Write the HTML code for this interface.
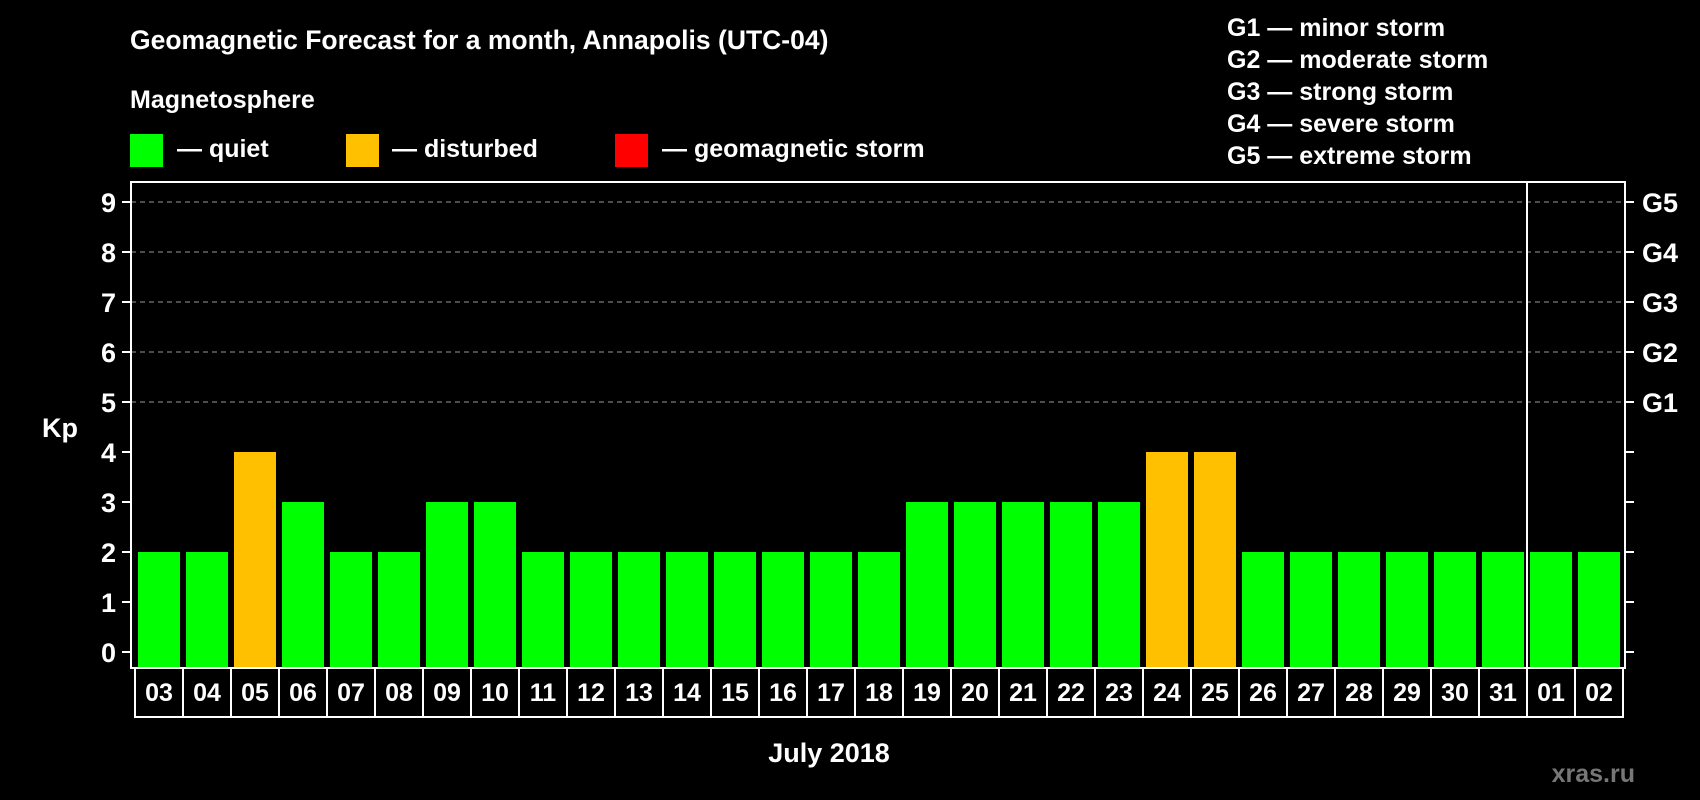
<!DOCTYPE html>
<html><head><meta charset="utf-8"><style>
html,body{margin:0;padding:0;background:#000;}
svg{display:block;font-family:"Liberation Sans",Arial,sans-serif;font-weight:bold;}
</style></head><body>
<svg id="chart" width="1700" height="800" viewBox="0 0 1700 800" xmlns="http://www.w3.org/2000/svg">
<rect x="0" y="0" width="1700" height="800" fill="#000"/>
<text x="130" y="49" fill="#fff" font-size="26.5">Geomagnetic Forecast for a month, Annapolis (UTC-04)</text>
<text x="130" y="108" fill="#fff" font-size="25">Magnetosphere</text>
<g>
<rect x="130" y="134" width="33" height="33" fill="#00ff00"/>
<text x="177" y="157" fill="#fff" font-size="25">— quiet</text></g>
<g>
<rect x="346" y="134" width="33" height="33" fill="#ffc000"/>
<text x="392" y="157" fill="#fff" font-size="25">— disturbed</text></g>
<g>
<rect x="615" y="134" width="33" height="33" fill="#ff0000"/>
<text x="662" y="157" fill="#fff" font-size="25">— geomagnetic storm</text></g>
<g fill="#fff" font-size="25">
<text x="1227" y="36">G1 — minor storm</text>
<text x="1227" y="68">G2 — moderate storm</text>
<text x="1227" y="100">G3 — strong storm</text>
<text x="1227" y="132">G4 — severe storm</text>
<text x="1227" y="164">G5 — extreme storm</text>
</g>
<text x="42" y="437" fill="#fff" font-size="27">Kp</text>
<text x="829" y="762" fill="#fff" font-size="27" text-anchor="middle">July 2018</text>
<text x="1635" y="782" fill="#777" font-size="25" text-anchor="end">xras.ru</text>
<g id="grid"></g><g id="bars"></g><g id="axes"></g><g id="labels"></g>
</svg>
<script>
const days = ["03","04","05","06","07","08","09","10","11","12","13","14","15","16","17","18","19","20","21","22","23","24","25","26","27","28","29","30","31","01","02"];
const kpValues = [2,2,4,3,2,2,3,3,2,2,2,2,2,2,2,2,3,3,3,3,3,4,4,2,2,2,2,2,2,2,2];
const yTicks = [0,1,2,3,4,5,6,7,8,9];
const gLabels = ["","","","","","G1","G2","G3","G4","G5"];
const monthBreakIndex = 29;

(function(){
const NS = "http://www.w3.org/2000/svg";
const pLeft = 131, pRight = 1625, pTop = 182, pBottom = 668;
const slotW = 48;
function xs(i){ return 135 + i*slotW; }
function ys(v){ return 652 - v*50; }
function mk(tag, attrs, parent){ const e=document.createElementNS(NS,tag); for(const k in attrs) e.setAttribute(k,attrs[k]); parent.appendChild(e); return e; }
const grid=document.getElementById('grid'), bars=document.getElementById('bars'), axes=document.getElementById('axes'), labels=document.getElementById('labels');

yTicks.forEach((t,i)=>{
  const y=ys(t);
  if(t>=5){ const l=mk('line',{x1:pLeft,x2:pRight,y1:y,y2:y,stroke:'#999','stroke-width':1,'stroke-dasharray':'5,4'},grid);
    
     }
  const tl=mk('line',{x1:122,x2:pLeft,y1:y,y2:y,stroke:'#fff','stroke-width':2},axes);
  
  
  const tr=mk('line',{x1:pRight,x2:1634,y1:y,y2:y,stroke:'#fff','stroke-width':2},axes);
  
  
  const tx=mk('text',{x:116,y:y+10,fill:'#fff','font-size':27,'text-anchor':'end'},axes); tx.textContent=t;
  
  
  if(gLabels[i]){ const g=mk('text',{x:1642,y:y+10,fill:'#fff','font-size':27},axes); g.textContent=gLabels[i];
    
     }
});

kpValues.forEach((v,i)=>{
  const col = v>=5 ? '#ff0000' : (v>=4 ? '#ffc000' : '#00ff00');
  const r=mk('rect',{x:xs(i)+3,y:ys(v),width:slotW-6,height:pBottom-ys(v),fill:col},bars);
  
  
  const c=mk('rect',{x:xs(i),y:pBottom,width:slotW,height:49,fill:'none',stroke:'#fff','stroke-width':2},labels);
  
  
  const t=mk('text',{x:xs(i)+slotW/2,y:701,fill:'#fff','font-size':25,'text-anchor':'middle'},labels); t.textContent=days[i];
  
  
});

const fr=mk('rect',{x:pLeft,y:pTop,width:pRight-pLeft,height:pBottom-pTop,fill:'none',stroke:'#fff','stroke-width':2},axes);


const dv=mk('line',{x1:xs(monthBreakIndex),x2:xs(monthBreakIndex),y1:pTop,y2:pBottom,stroke:'#fff','stroke-width':2},axes);


})();
</script>
</body></html>
